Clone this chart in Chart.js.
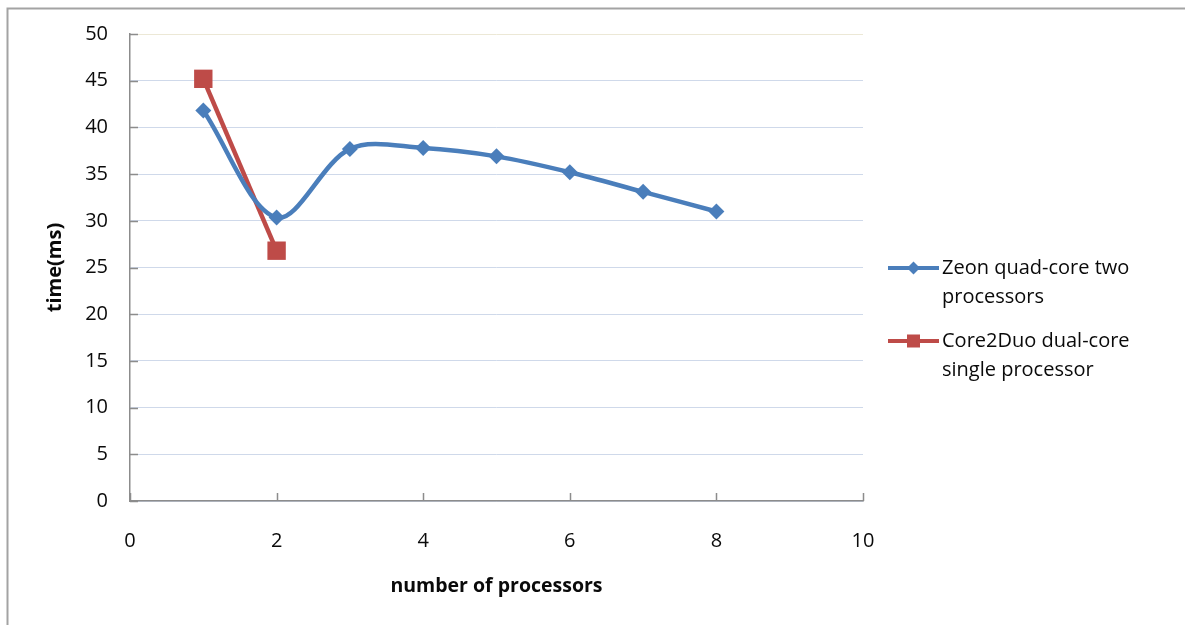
<!DOCTYPE html>
<html>
<head>
<meta charset="utf-8">
<title>Processing time vs number of processors</title>
<script src="https://cdn.jsdelivr.net/npm/chart.js@4.4.1/dist/chart.umd.min.js"></script>
<style>
  html, body { margin: 0; padding: 0; background: #ffffff; }
  canvas { display: block; }
</style>
</head>
<body>
<canvas id="chart" width="1185" height="625"></canvas>
<script>
// Measured run times (ms) per processor count
const zeonProcessors = [1, 2, 3, 4, 5, 6, 7, 8];
const zeonTimes = [41.8, 30.35, 37.7, 37.8, 36.9, 35.2, 33.1, 31.0];
const duoProcessors = [1, 2];
const duoTimes = [45.2, 26.8];

const seriesNames = [
  ['Zeon quad-core two', 'processors'],
  ['Core2Duo dual-core', 'single processor']
];
const xTitle = 'number of processors';
const yTitle = 'time(ms)';

const BLUE = '#4a7ebb';
const RED = '#be4b48';
const AXIS = '#8c8c8c';
const TEXT = '#0a0a0a';
const FONT = '"Open Sans", "DejaVu Sans", sans-serif';

const toPoints = (xs, ys) => xs.map((x, i) => ({ x: x, y: ys[i] }));

// Outer frame of the chart object
const framePlugin = {
  id: 'frame',
  beforeDraw(chart) {
    const ctx = chart.ctx;
    ctx.save();
    ctx.strokeStyle = '#a3a3a3';
    ctx.lineWidth = 2;
    ctx.beginPath();
    ctx.moveTo(7.5, 626);
    ctx.lineTo(7.5, 8.5);
    ctx.lineTo(1186, 8.5);
    ctx.stroke();
    ctx.restore();
  }
};

// Tick marks that point into the plot area on both axes
const innerTicksPlugin = {
  id: 'innerTicks',
  beforeDatasetsDraw(chart) {
    const ctx = chart.ctx;
    const xs = chart.scales.x, ys = chart.scales.y;
    const len = 8;
    ctx.save();
    ctx.strokeStyle = AXIS;
    ctx.lineWidth = 1.5;
    ctx.beginPath();
    ys.ticks.forEach(t => {
      const py = Math.round(ys.getPixelForValue(t.value)) + 0.5;
      ctx.moveTo(xs.left, py);
      ctx.lineTo(xs.left + len, py);
    });
    xs.ticks.forEach(t => {
      const px = Math.round(xs.getPixelForValue(t.value)) + 0.5;
      ctx.moveTo(px, ys.bottom);
      ctx.lineTo(px, ys.bottom - len);
    });
    ctx.stroke();
    ctx.restore();
  }
};

// Legend on the right with two-line entries
const sideLegendPlugin = {
  id: 'sideLegend',
  afterDraw(chart) {
    const ctx = chart.ctx;
    const x0 = 888, x1 = 939, textX = 942;
    const tops = [268, 341];
    const lineGap = 29;
    ctx.save();
    chart.data.datasets.forEach((ds, i) => {
      const y = tops[i];
      ctx.strokeStyle = ds.borderColor;
      ctx.lineWidth = 4;
      ctx.beginPath();
      ctx.moveTo(x0, y);
      ctx.lineTo(x1, y);
      ctx.stroke();
      ctx.fillStyle = ds.backgroundColor;
      const cx = (x0 + x1) / 2;
      if (ds.pointStyle === 'rect') {
        ctx.fillRect(cx - 6.5, y - 6.5, 13, 13);
      } else {
        ctx.beginPath();
        ctx.moveTo(cx, y - 6.5);
        ctx.lineTo(cx + 6.5, y);
        ctx.lineTo(cx, y + 6.5);
        ctx.lineTo(cx - 6.5, y);
        ctx.closePath();
        ctx.fill();
      }
      ctx.fillStyle = TEXT;
      ctx.font = '20px ' + FONT;
      ctx.textAlign = 'left';
      ctx.textBaseline = 'middle';
      seriesNames[i].forEach((line, k) => {
        ctx.fillText(line, textX, y + k * lineGap);
      });
    });
    ctx.restore();
  }
};

new Chart(document.getElementById('chart'), {
  type: 'line',
  data: {
    datasets: [
      {
        label: seriesNames[0].join(' '),
        data: toPoints(zeonProcessors, zeonTimes),
        borderColor: BLUE,
        backgroundColor: BLUE,
        borderWidth: 4.5,
        tension: 0.33,
        pointStyle: 'rectRot',
        pointRadius: 8,
        pointBorderWidth: 0,
        pointBackgroundColor: BLUE
      },
      {
        label: seriesNames[1].join(' '),
        data: toPoints(duoProcessors, duoTimes),
        borderColor: RED,
        backgroundColor: RED,
        borderWidth: 4.5,
        tension: 0,
        pointStyle: 'rect',
        pointRadius: 13,
        pointBorderWidth: 0,
        pointBackgroundColor: RED
      }
    ]
  },
  options: {
    responsive: false,
    animation: false,
    devicePixelRatio: 1,
    layout: { padding: { left: 0, top: 33, right: 322, bottom: 0 } },
    plugins: {
      legend: { display: false },
      tooltip: { enabled: false }
    },
    scales: {
      x: {
        type: 'linear',
        min: 0,
        max: 10,
        afterFit(scale) { scale.height = 124; },
        ticks: {
          stepSize: 2,
          padding: 28,
          color: TEXT,
          font: { family: FONT, size: 20 },
          maxRotation: 0
        },
        grid: { drawOnChartArea: false, drawTicks: false },
        border: { display: true, color: AXIS, width: 1.5 },
        title: {
          display: true,
          text: xTitle,
          color: TEXT,
          font: { family: FONT, size: 19.5, weight: 'bold' },
          padding: { top: 0, bottom: 27 }
        }
      },
      y: {
        min: 0,
        max: 50,
        afterFit(scale) { scale.width = 130; },
        ticks: {
          stepSize: 5,
          padding: 22,
          color: TEXT,
          font: { family: FONT, size: 20 }
        },
        grid: {
          drawTicks: false,
          lineWidth: 1,
          color: ctx => (ctx.tick && ctx.tick.value === 50) ? '#ece8d6' : '#cfd9ea'
        },
        border: { display: true, color: AXIS, width: 1.5 },
        title: {
          display: true,
          text: yTitle,
          color: TEXT,
          font: { family: FONT, size: 20, weight: 'bold' },
          padding: { top: 43, bottom: 0 }
        }
      }
    }
  },
  plugins: [framePlugin, innerTicksPlugin, sideLegendPlugin]
});
</script>
</body>
</html>
